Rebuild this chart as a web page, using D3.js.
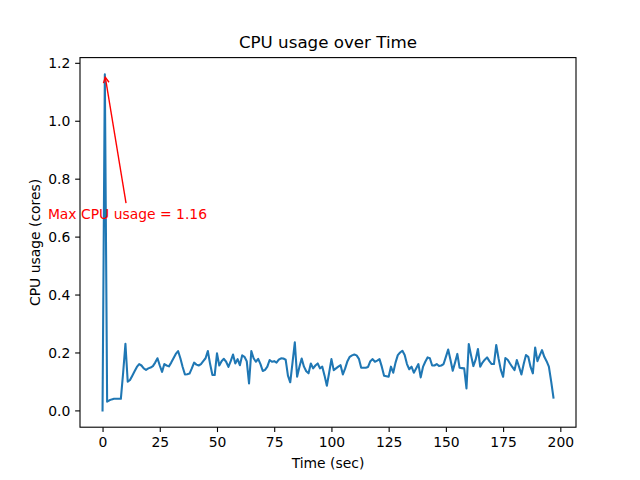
<!DOCTYPE html>
<html>
<head>
<meta charset="utf-8">
<script src="https://cdn.jsdelivr.net/npm/d3@7"></script>
<style>
  html, body { margin: 0; padding: 0; background: #fff; }
  svg { display: block; }
  text { font-family: "DejaVu Sans", sans-serif; }
</style>
</head>
<body>
<svg id="chart" width="640" height="480"></svg>
<script>
// ---- Data ----
const cpuUsage = [
  0.000, 1.160, 0.030, 0.035, 0.038, 0.040, 0.040, 0.040, 0.040, 0.130,
  0.230, 0.099, 0.105, 0.120, 0.135, 0.150, 0.160, 0.155, 0.145, 0.140,
  0.145, 0.148, 0.153, 0.165, 0.180, 0.155, 0.133, 0.160, 0.155, 0.152,
  0.165, 0.180, 0.195, 0.205, 0.180, 0.150, 0.124, 0.125, 0.127, 0.145,
  0.165, 0.158, 0.155, 0.160, 0.170, 0.180, 0.205, 0.160, 0.122, 0.122,
  0.197, 0.155, 0.170, 0.178, 0.168, 0.150, 0.170, 0.193, 0.162, 0.177,
  0.156, 0.190, 0.185, 0.170, 0.093, 0.205, 0.180, 0.168, 0.178, 0.160,
  0.136, 0.140, 0.151, 0.174, 0.168, 0.170, 0.165, 0.175, 0.180, 0.179,
  0.175, 0.120, 0.097, 0.165, 0.235, 0.116, 0.150, 0.179, 0.151, 0.135,
  0.128, 0.162, 0.145, 0.155, 0.162, 0.145, 0.151, 0.120, 0.085, 0.130,
  0.177, 0.139, 0.145, 0.151, 0.156, 0.124, 0.145, 0.170, 0.185, 0.190,
  0.193, 0.190, 0.178, 0.147, 0.147, 0.147, 0.150, 0.170, 0.177, 0.168,
  0.172, 0.177, 0.151, 0.120, 0.118, 0.116, 0.151, 0.130, 0.165, 0.191,
  0.200, 0.206, 0.191, 0.160, 0.142, 0.151, 0.130, 0.145, 0.160, 0.114,
  0.150, 0.168, 0.183, 0.180, 0.155, 0.155, 0.160, 0.153, 0.155, 0.160,
  0.185, 0.210, 0.175, 0.137, 0.165, 0.195, 0.147, 0.146, 0.145, 0.076,
  0.229, 0.190, 0.153, 0.175, 0.212, 0.151, 0.165, 0.175, 0.183, 0.170,
  0.160, 0.160, 0.226, 0.180, 0.140, 0.116, 0.181, 0.175, 0.162, 0.150,
  0.139, 0.174, 0.150, 0.124, 0.160, 0.191, 0.185, 0.150, 0.128, 0.217,
  0.170, 0.190, 0.208, 0.185, 0.170, 0.151, 0.100, 0.044
];
const timeSec = cpuUsage.map((_, i) => i);
const xTicks = [0, 25, 50, 75, 100, 125, 150, 175, 200];
const yTicks = [0.0, 0.2, 0.4, 0.6, 0.8, 1.0, 1.2];
const titleText = "CPU usage over Time";
const xLabelText = "Time (sec)";
const yLabelText = "CPU usage (cores)";
const maxIndex = cpuUsage.indexOf(d3.max(cpuUsage));
const maxValue = cpuUsage[maxIndex];
const annotationPos = [10, 0.7];
const annotationText = "Max CPU usage = " + maxValue.toFixed(2);

(function () {
  // ---- Layout ----
  const W = 640, H = 480;
  const mL = 80, mR = 576, mT = 57.6, mB = 427.2;
  const svg = d3.select("#chart");
  svg.append("rect").attr("width", W).attr("height", H).attr("fill", "#fff");

  const xMin = d3.min(timeSec), xMax = d3.max(timeSec);
  const xPad = (xMax - xMin) * 0.05;
  const yMin = d3.min(cpuUsage), yMax = d3.max(cpuUsage);
  const yPad = (yMax - yMin) * 0.05;

  const x = d3.scaleLinear().domain([xMin - xPad, xMax + xPad]).range([mL, mR]);
  const y = d3.scaleLinear().domain([yMin - yPad, yMax + yPad]).range([mB, mT]);

  const tickLen = 4.86, fs = 13.9;

  // line
  const line = d3.line().x((d, i) => x(timeSec[i])).y(d => y(d));
  svg.append("path")
    .datum(cpuUsage)
    .attr("d", line)
    .attr("fill", "none")
    .attr("stroke", "#1f77b4")
    .attr("stroke-width", 2.08)
    .attr("stroke-linejoin", "round")
    .attr("stroke-linecap", "square");

  // axes
  const xAxis = d3.axisBottom(x).tickValues(xTicks).tickSize(tickLen).tickPadding(4.86).tickFormat(d3.format("d"));
  const yAxis = d3.axisLeft(y).tickValues(yTicks).tickSize(tickLen).tickPadding(4.86).tickFormat(d3.format(".1f"));

  const gx = svg.append("g").attr("transform", `translate(0,${mB})`).call(xAxis);
  const gy = svg.append("g").attr("transform", `translate(${mL},0)`).call(yAxis);
  [gx, gy].forEach(g => {
    g.select(".domain").remove();
    g.selectAll(".tick line").attr("stroke", "#000").attr("stroke-width", 1.1);
    g.selectAll(".tick text").attr("fill", "#000").attr("font-size", fs)
      .attr("font-family", "DejaVu Sans, sans-serif");
  });
  gx.selectAll(".tick text").attr("dy", null).attr("y", 20.2);
  gy.selectAll(".tick text").attr("dy", null).attr("y", 5.0);

  // frame
  svg.append("rect")
    .attr("x", mL).attr("y", mT)
    .attr("width", mR - mL).attr("height", mB - mT)
    .attr("fill", "none").attr("stroke", "#000").attr("stroke-width", 1.1);

  // title & labels
  svg.append("text").attr("x", (mL + mR) / 2).attr("y", 47.5)
    .attr("text-anchor", "middle").attr("font-size", 16.7).attr("fill", "#000").text(titleText);
  svg.append("text").attr("x", (mL + mR) / 2).attr("y", 467.5)
    .attr("text-anchor", "middle").attr("font-size", fs).attr("fill", "#000").text(xLabelText);
  svg.append("text")
    .attr("transform", `translate(39.5,${(mT + mB) / 2}) rotate(-90)`)
    .attr("text-anchor", "middle").attr("font-size", fs).attr("fill", "#000").text(yLabelText);

  // annotation
  const tx = x(annotationPos[0]), ty = y(annotationPos[1]);
  svg.append("text").attr("x", tx + 2).attr("y", ty + 11.2)
    .attr("text-anchor", "middle").attr("font-size", fs).attr("fill", "red").text(annotationText);

  const sx = tx + 0.6, sy = ty - 4.5;
  const ex0 = x(timeSec[maxIndex]), ey0 = y(maxValue);
  const ang = Math.atan2(ey0 - sy, ex0 - sx);
  const shrink = 2.8;
  const ex = ex0 - shrink * Math.cos(ang), ey = ey0 - shrink * Math.sin(ang);
  svg.append("line").attr("x1", sx).attr("y1", sy).attr("x2", ex).attr("y2", ey)
    .attr("stroke", "red").attr("stroke-width", 1.39);
  const hl = 5.6, hw = 2.8;
  const bx = ex - hl * Math.cos(ang), by = ey - hl * Math.sin(ang);
  const px = -Math.sin(ang), py = Math.cos(ang);
  svg.append("path")
    .attr("d", `M${bx + hw * px},${by + hw * py}L${ex},${ey}L${bx - hw * px},${by - hw * py}`)
    .attr("fill", "none").attr("stroke", "red").attr("stroke-width", 1.39);
})();
</script>
</body>
</html>
